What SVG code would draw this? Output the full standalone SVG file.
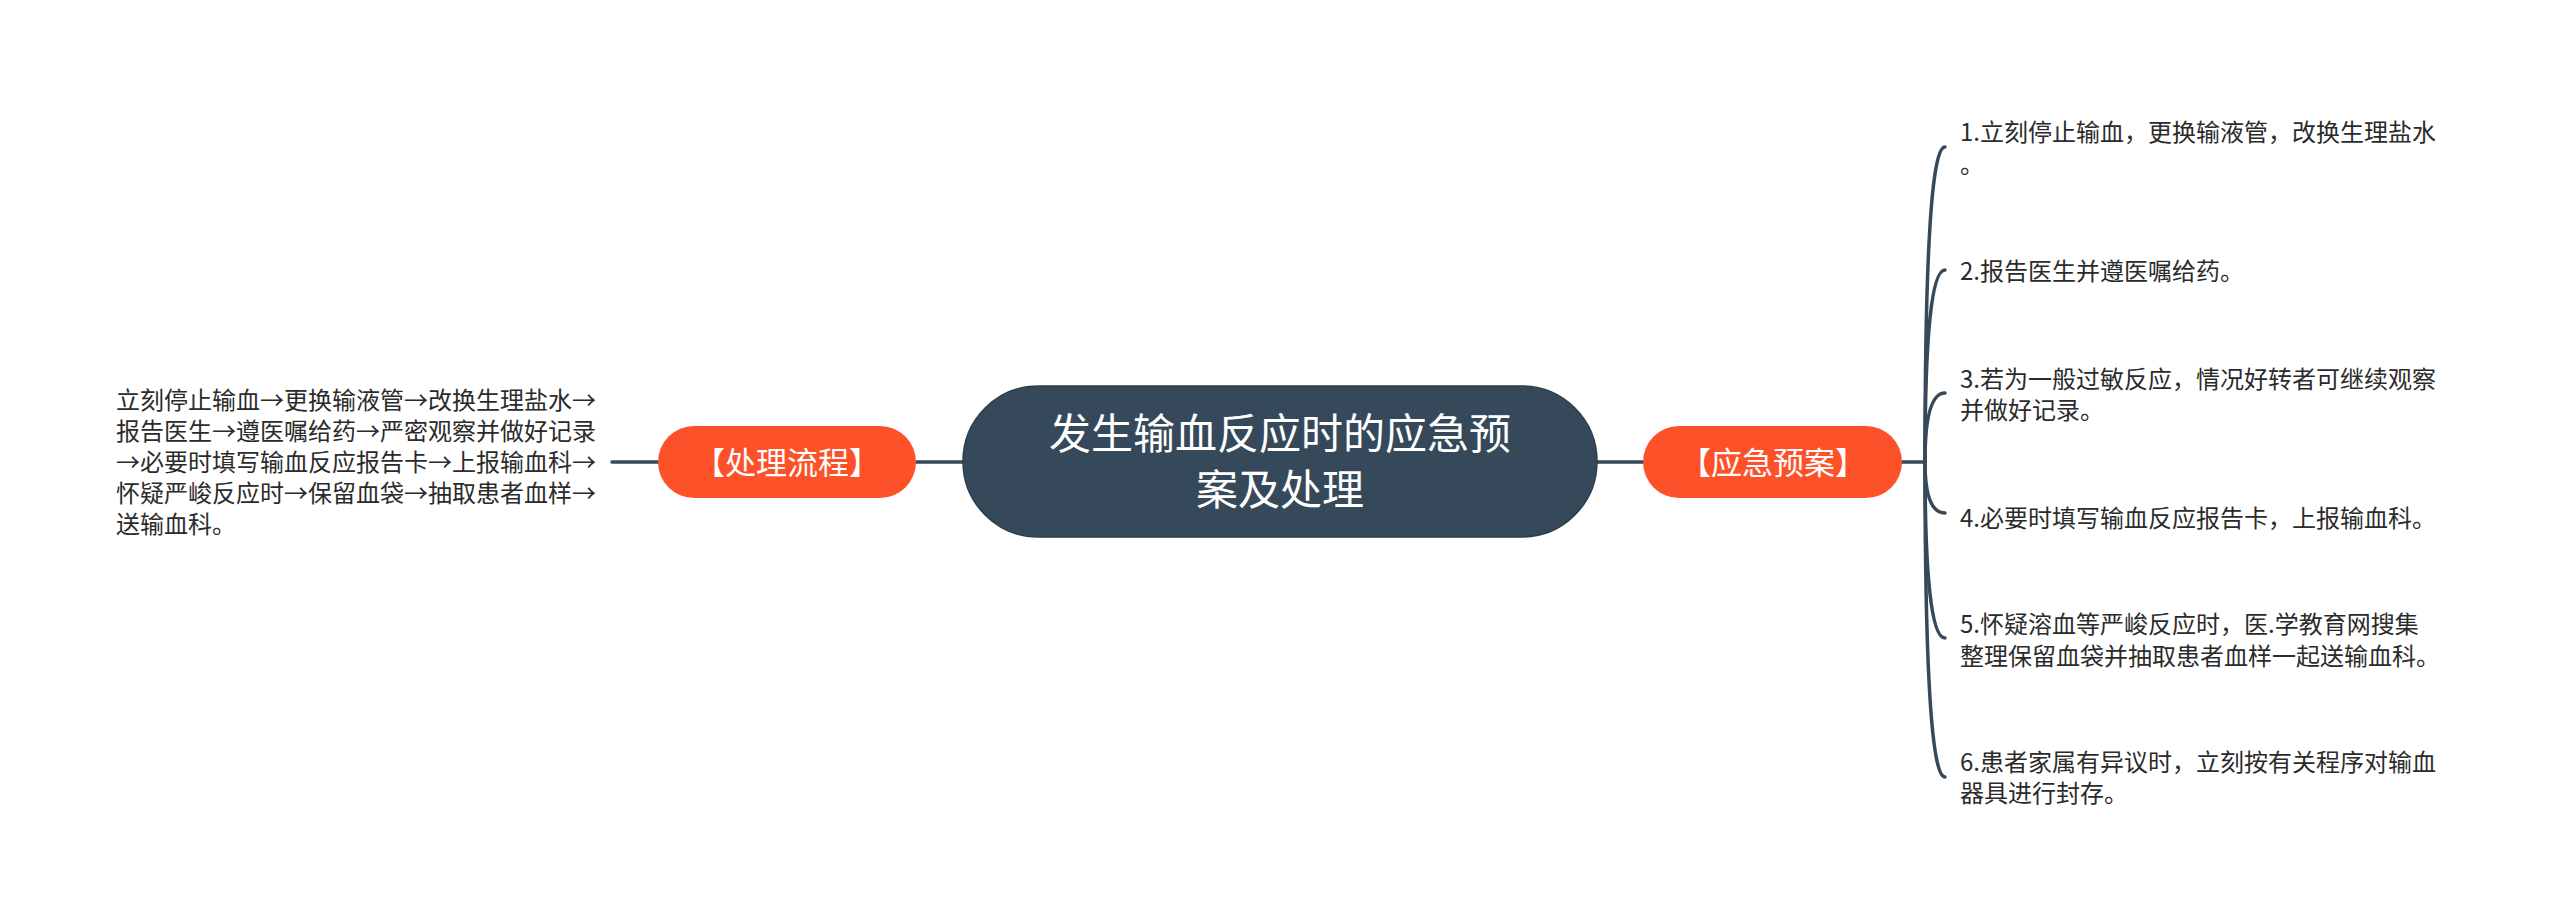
<svg xmlns="http://www.w3.org/2000/svg" width="2560" height="924" viewBox="0 0 2560 924">
<style>
.t{font-family:"Microsoft YaHei","Noto Sans CJK SC","Noto Sans",sans-serif;}
.leaf{font-size:24px;fill:#2b2b2b;}
.sub{font-size:31px;fill:#ffffff;text-anchor:middle;}
.root{font-size:42px;fill:#ffffff;text-anchor:middle;}
.edge{fill:none;stroke:#35495a;stroke-width:3.5;stroke-linecap:round;}
</style>
<rect width="2560" height="924" fill="#ffffff"/>
<g id="connectors">
<path class="edge" d="M916 462 L963 462"/>
<path class="edge" d="M612 462 L658 462"/>
<path class="edge" d="M1597 462 L1643 462"/>
<path class="edge" d="M1902 462 L1925 462"/>
<path class="edge" d="M1925 462 Q1925 147 1945 147"/>
<path class="edge" d="M1925 462 Q1925 270 1945 270"/>
<path class="edge" d="M1925 462 Q1925 393 1945 393"/>
<path class="edge" d="M1925 462 Q1925 513 1945 513"/>
<path class="edge" d="M1925 462 Q1925 638 1945 638"/>
<path class="edge" d="M1925 462 Q1925 777 1945 777"/>
</g>
<g id="root">
<rect x="963" y="386" width="634" height="151" rx="75.5" ry="75.5" fill="#35495a" stroke="#2c3e4c" stroke-width="1.5"/>
<text class="t root"><tspan x="1280" y="449">发生输血反应时的应急预</tspan><tspan x="1280" y="505">案及处理</tspan></text>
</g>
<g id="node-left">
<rect x="658" y="426" width="258" height="72" rx="36" ry="36" fill="#fd5229"/>
<text class="t sub" x="787" y="474">【处理流程】</text>
</g>
<g id="node-right">
<rect x="1643" y="426" width="259" height="72" rx="36" ry="36" fill="#fd5229"/>
<text class="t sub" x="1773" y="474">【应急预案】</text>
</g>
<g id="leaf-left">
<text class="t leaf"><tspan x="116" y="409">立刻停止输血→更换输液管→改换生理盐水→</tspan><tspan x="116" y="440">报告医生→遵医嘱给药→严密观察并做好记录</tspan><tspan x="116" y="471">→必要时填写输血反应报告卡→上报输血科→</tspan><tspan x="116" y="502">怀疑严峻反应时→保留血袋→抽取患者血样→</tspan><tspan x="116" y="533">送输血科。</tspan></text>
</g>
<g id="leaf-1">
<text class="t leaf"><tspan x="1960" y="141">1.立刻停止输血，更换输液管，改换生理盐水</tspan><tspan x="1960" y="173">。</tspan></text>
</g>
<g id="leaf-2">
<text class="t leaf" x="1960" y="280">2.报告医生并遵医嘱给药。</text>
</g>
<g id="leaf-3">
<text class="t leaf"><tspan x="1960" y="388">3.若为一般过敏反应，情况好转者可继续观察</tspan><tspan x="1960" y="419">并做好记录。</tspan></text>
</g>
<g id="leaf-4">
<text class="t leaf" x="1960" y="527">4.必要时填写输血反应报告卡，上报输血科。</text>
</g>
<g id="leaf-5">
<text class="t leaf"><tspan x="1960" y="633">5.怀疑溶血等严峻反应时，医.学教育网搜集</tspan><tspan x="1960" y="665">整理保留血袋并抽取患者血样一起送输血科。</tspan></text>
</g>
<g id="leaf-6">
<text class="t leaf"><tspan x="1960" y="771">6.患者家属有异议时，立刻按有关程序对输血</tspan><tspan x="1960" y="802">器具进行封存。</tspan></text>
</g>
</svg>
